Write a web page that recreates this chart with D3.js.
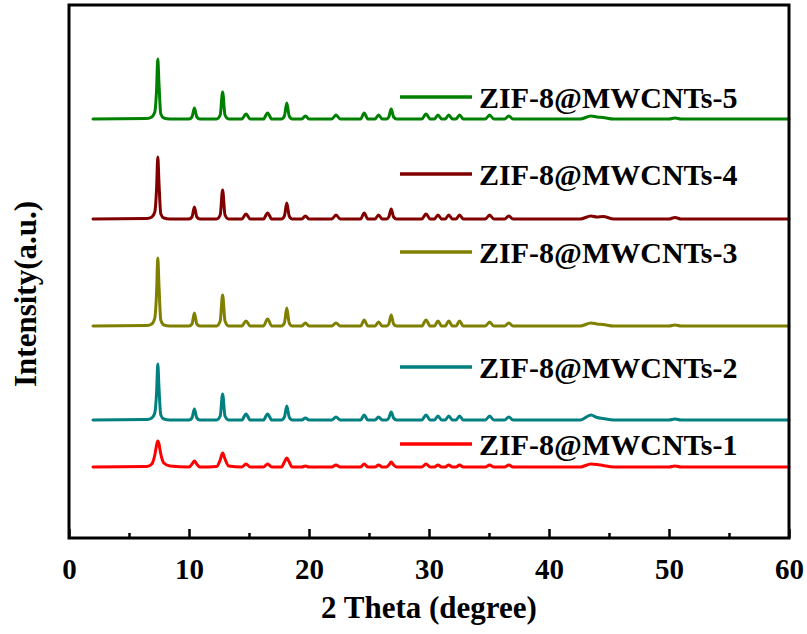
<!DOCTYPE html>
<html>
<head>
<meta charset="utf-8">
<script src="https://d3js.org/d3.v7.min.js"></script>
</head>
<body style="margin:0">
<div id="chart"></div>
<script>
        // 2θ 采样点（所有样品共用）
        const twoTheta = [
            2.0, 6.5, 6.9, 7.15, 7.3, 7.4, 7.5, 7.65, 7.9, 8.4,
            10.0, 10.25, 10.45, 10.65, 10.9,
            12.3, 12.6, 12.8, 13.0, 13.3,
            14.4, 14.75, 15.1,
            16.2, 16.55, 16.9,
            17.7, 17.95, 18.15, 18.35, 18.6,
            19.4, 19.7, 20.0,
            21.9, 22.25, 22.6,
            24.3, 24.6, 24.9,
            25.5, 25.8, 26.1,
            26.45, 26.65, 26.85, 27.05, 27.3,
            29.4, 29.75, 30.1,
            30.45, 30.75, 31.05,
            31.35, 31.65, 31.95,
            32.25, 32.55, 32.85,
            34.7, 35.05, 35.4,
            36.3, 36.65, 37.0,
            42.6, 43.5, 44.0, 44.5, 45.4,
            50.0, 50.5, 51.0,
            60.0
        ];

        // 各样品强度 (a.u.)
        const sample1 = [
            0, 0.5, 3, 12, 22, 26, 23, 13, 4, 1,
            0, 3, 6, 3, 0,
            0.5, 7, 14, 8, 1,
            0, 3, 0,
            0, 3, 0,
            0, 5, 9, 5, 0,
            0, 1, 0,
            0, 2, 0,
            0, 3, 0,
            0, 2, 0,
            0, 2, 5, 2, 0,
            0, 3, 0,
            0, 2, 0,
            0, 2, 0,
            0, 2, 0,
            0, 2, 0,
            0, 2, 0,
            0, 3, 2.5, 1.5, 0,
            0, 1, 0,
            0
        ];
        const sample2 = [
            0, 0.5, 2, 7, 28, 56, 32, 5, 1, 0,
            0, 2, 11, 2, 0,
            0, 4, 26, 4, 0,
            0, 6, 0,
            0, 6, 0,
            0, 3, 14, 3, 0,
            0, 2, 0,
            0, 3, 0,
            0, 5, 0,
            0, 3, 0,
            0, 2, 8, 2, 0,
            0, 5, 0,
            0, 4, 0,
            0, 4, 0,
            0, 4, 0,
            0, 4, 0,
            0, 3, 0,
            0, 5, 2.5, 1.5, 0,
            0, 1, 0,
            0
        ];
        const sample3 = [
            0, 0.5, 2, 8, 34, 68, 40, 6, 1, 0,
            0, 2, 13, 2, 0,
            0, 5, 31, 5, 0,
            0, 5, 0,
            0, 7, 0,
            0, 3, 18, 3, 0,
            0, 3, 0,
            0, 3, 0,
            0, 6, 0,
            0, 4, 0,
            0, 2, 11, 2, 0,
            0, 6, 0,
            0, 5, 0,
            0, 5, 0,
            0, 5, 0,
            0, 4, 0,
            0, 3, 0,
            0, 3, 2, 1.5, 0,
            0, 1, 0,
            0
        ];
        const sample4 = [
            0, 0.5, 2, 7, 31, 62, 36, 5, 1, 0,
            0, 2, 12, 2, 0,
            0, 4, 29, 4, 0,
            0, 5, 0,
            0, 6, 0,
            0, 3, 16, 3, 0,
            0, 3, 0,
            0, 4, 0,
            0, 6, 0,
            0, 4, 0,
            0, 2, 10, 2, 0,
            0, 5, 0,
            0, 4, 0,
            0, 4, 0,
            0, 4, 0,
            0, 4, 0,
            0, 3, 0,
            0, 3, 2, 2.5, 0,
            0, 1.5, 0,
            0
        ];
        const sample5 = [
            0, 0.5, 2, 7, 30, 60, 35, 5, 1, 0,
            0, 2, 11, 2, 0,
            0, 4, 27, 4, 0,
            0, 5, 0,
            0, 6, 0,
            0, 3, 16, 3, 0,
            0, 3, 0,
            0, 4, 0,
            0, 6, 0,
            0, 4, 0,
            0, 2, 10, 2, 0,
            0, 5, 0,
            0, 4, 0,
            0, 4, 0,
            0, 4, 0,
            0, 4, 0,
            0, 3, 0,
            0, 3, 2, 1.5, 0,
            0, 1, 0,
            0
        ];

        const sampleNames = ["ZIF-8@MWCNTs-1", "ZIF-8@MWCNTs-2", "ZIF-8@MWCNTs-3", "ZIF-8@MWCNTs-4", "ZIF-8@MWCNTs-5"];
        const sampleValues = [sample1, sample2, sample3, sample4, sample5];
        // 堆叠偏移 (a.u.)
        const offsets = [71, 118, 212, 319, 419];
        const xTicks = [0, 10, 20, 30, 40, 50, 60];
        const xMinorTicks = [5, 15, 25, 35, 45, 55];

        // 样式
        const colors = ["#ff0000", "#008080", "#808000", "#800000", "#008000"];
        const legendY = [444, 367, 252, 174, 97];

        // 配置参数
        const width = 807;
        const height = 634;
        const margin = { top: 5, right: 18, bottom: 96, left: 69 };
        const innerWidth = width - margin.left - margin.right;
        const innerHeight = height - margin.top - margin.bottom;

        const root = d3.select("#chart")
            .append("svg")
            .attr("width", width)
            .attr("height", height);

        const svg = root.append("g")
            .attr("transform", `translate(${margin.left},${margin.top})`);

        // 比例尺
        const xScale = d3.scaleLinear()
            .domain([0, 60])
            .range([0, innerWidth]);

        const yScale = d3.scaleLinear()
            .domain([0, innerHeight])
            .range([innerHeight, 0]);

        const line = d3.line()
            .x(d => xScale(d[0]))
            .y(d => yScale(d[1]))
            .curve(d3.curveMonotoneX);

        // 绘制曲线
        svg.selectAll(".xrd")
            .data(sampleValues)
            .enter().append("path")
            .attr("class", "xrd")
            .attr("fill", "none")
            .attr("stroke", (d, i) => colors[i])
            .attr("stroke-width", 3)
            .attr("stroke-linejoin", "round")
            .attr("stroke-linecap", "round")
            .attr("d", (vals, i) => line(twoTheta.map((t, j) => [t, vals[j] + offsets[i]])));

        // 坐标轴（刻度朝内）
        const xAxis = d3.axisBottom(xScale)
            .tickValues(xTicks)
            .tickSize(-9)
            .tickPadding(20)
            .tickFormat(d3.format("d"));

        const gx = svg.append("g")
            .attr("transform", `translate(0, ${innerHeight})`)
            .call(xAxis);
        gx.select(".domain").remove();
        gx.attr("font-family", null).attr("font-size", null);
        gx.selectAll(".tick line").attr("stroke", "#000").attr("stroke-width", 2.5);
        gx.selectAll(".tick text")
            .attr("fill", "#000")
            .attr("dy", "0.71em")
            .attr("font-family", "Liberation Serif")
            .attr("font-size", 29)
            .attr("font-weight", "bold");

        const xMinor = d3.axisBottom(xScale)
            .tickValues(xMinorTicks)
            .tickSize(-5)
            .tickFormat("");
        const gxm = svg.append("g")
            .attr("transform", `translate(0, ${innerHeight})`)
            .call(xMinor);
        gxm.select(".domain").remove();
        gxm.selectAll(".tick line").attr("stroke", "#000").attr("stroke-width", 2.5);

        // 边框
        svg.append("rect")
            .attr("width", innerWidth)
            .attr("height", innerHeight)
            .attr("fill", "none")
            .attr("stroke", "#000")
            .attr("stroke-width", 3);

        // 轴标题
        svg.append("text")
            .attr("x", innerWidth / 2)
            .attr("y", 613)
            .attr("text-anchor", "middle")
            .attr("font-family", "Liberation Serif")
            .attr("font-size", 31)
            .attr("font-weight", "bold")
            .text("2 Theta (degree)");

        svg.append("text")
            .attr("transform", `translate(${36 - margin.left}, ${294 - margin.top}) rotate(-90)`)
            .attr("text-anchor", "middle")
            .attr("font-family", "Liberation Serif")
            .attr("font-size", 31)
            .attr("font-weight", "bold")
            .text("Intensity(a.u.)");

        // 图例
        const items = root.append("g")
            .selectAll("g")
            .data(sampleNames)
            .enter().append("g")
            .attr("transform", (d, i) => `translate(400, ${legendY[i]})`);

        items.append("line")
            .attr("x1", 0)
            .attr("x2", 72)
            .attr("stroke", (d, i) => colors[i])
            .attr("stroke-width", 3.5);

        items.append("text")
            .attr("x", 79)
            .attr("y", 11)
            .attr("font-family", "Liberation Serif")
            .attr("font-size", 30)
            .attr("font-weight", "bold")
            .text(d => d);
</script>
</body>
</html>
